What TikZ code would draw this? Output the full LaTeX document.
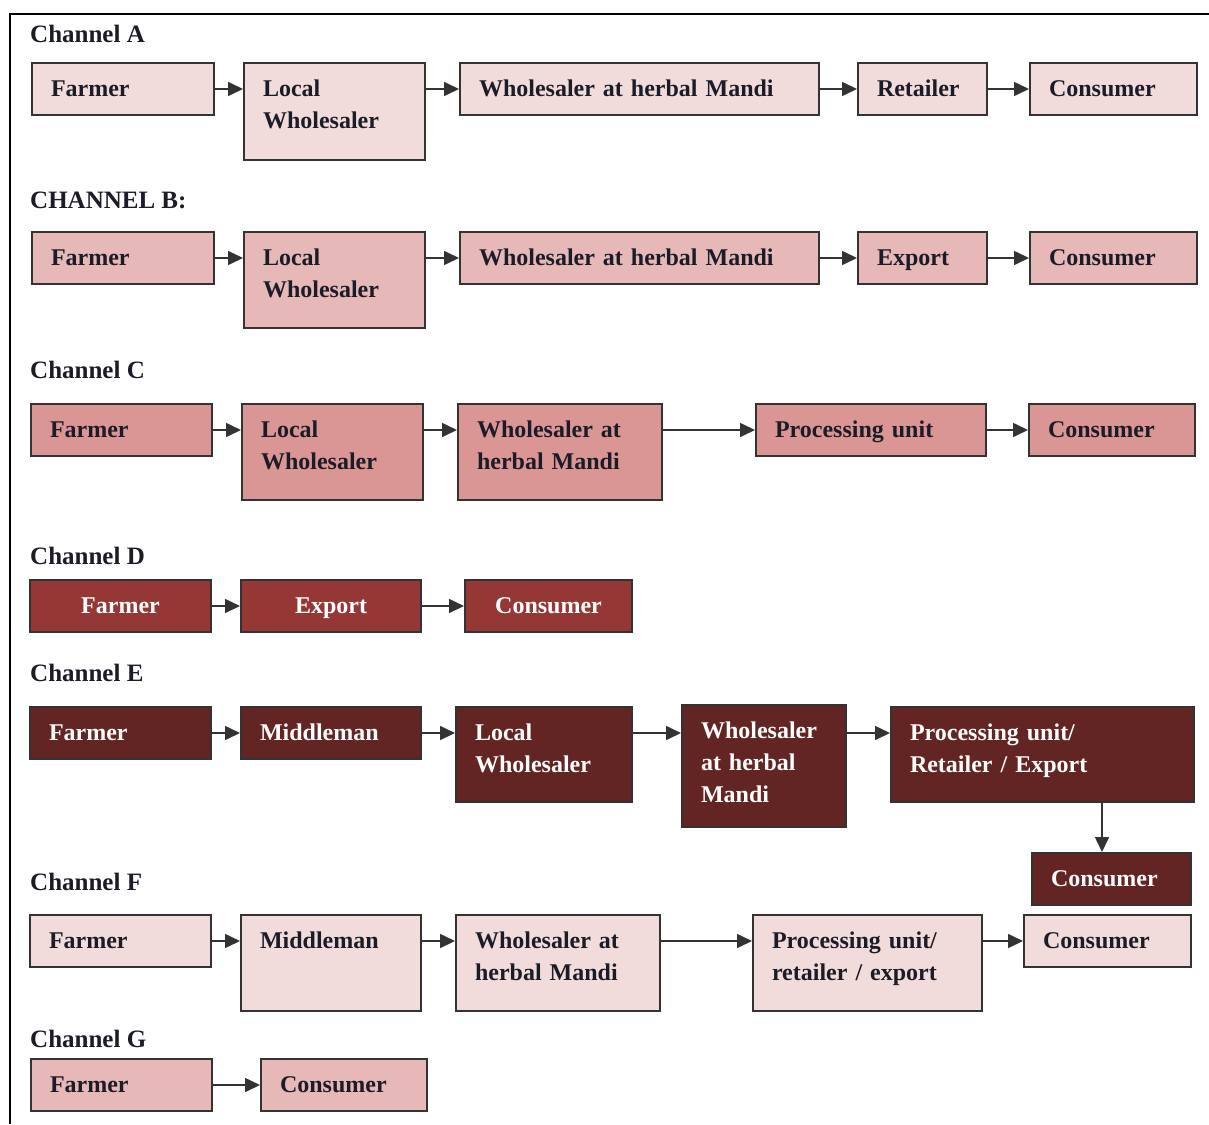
\documentclass[tikz,border=0pt]{standalone}
\usepackage{fontspec}
\setmainfont{Liberation Serif}
\usetikzlibrary{arrows.meta}
\definecolor{pA}{HTML}{F2DCDB}
\definecolor{pB}{HTML}{E6B8B7}
\definecolor{pC}{HTML}{DA9694}
\definecolor{pD}{HTML}{953735}
\definecolor{pE}{HTML}{632523}
\definecolor{edge}{HTML}{333333}
\definecolor{ink}{HTML}{1C1C28}
\tikzset{
  box/.style={draw=edge, line width=2pt, anchor=north west, inner xsep=19pt,
    inner ysep=0pt, align=left, text height=33pt, text=ink,
    font=\fontsize{24}{32}\selectfont\bfseries},
  wh/.code 2 args={\pgfmathsetlengthmacro\tw{#1-38}\pgfmathsetlengthmacro\td{#2-33}%
    \edef\tmpstyle{\noexpand\tikzset{text width=\tw, text depth=\td}}\tmpstyle},
  lt/.style={box, fill=pA},
  md/.style={box, fill=pB},
  mc/.style={box, fill=pC},
  dk/.style={box, fill=pD, text=white, align=center},
  dr/.style={box, fill=pE, text=white},
  chan/.style={anchor=base west, inner sep=0pt, text=ink,
    font=\fontsize{25}{30}\selectfont\bfseries},
  arr/.style={draw=edge, line width=1.6pt, -{Triangle[length=15pt,width=14pt]}},
}
\begin{document}
\begin{tikzpicture}[x=1pt,y=-1pt]
\useasboundingbox[fill=white] (0,0) rectangle (1209,1124);
\draw[line width=2pt, black] (1209,14) -- (10,14) -- (10,1124);

% Channel A
\node[chan] (la) at (30,43) {Channel A};
\node[lt, wh={182}{52}] (a1) at (31,62) {Farmer};
\node[lt, wh={181}{97}] (a2) at (243,62) {Local\\Wholesaler};
\node[lt, wh={359}{52}] (a3) at (459,62) {Wholesaler at herbal Mandi};
\node[lt, wh={129}{52}] (a4) at (857,62) {Retailer};
\node[lt, wh={167}{52}] (a5) at (1029,62) {Consumer};
\draw[arr] (a1.east) -- (a2.west |- a1.east);
\draw[arr] (a2.east |- a1.east) -- (a3.west);
\draw[arr] (a3.east) -- (a4.west);
\draw[arr] (a4.east) -- (a5.west);

% Channel B
\node[chan] (lb) at (30,208) {CHANNEL B:};
\node[md, wh={182}{52}] (b1) at (31,231) {Farmer};
\node[md, wh={181}{96}] (b2) at (243,231) {Local\\Wholesaler};
\node[md, wh={359}{52}] (b3) at (459,231) {Wholesaler at herbal Mandi};
\node[md, wh={129}{52}] (b4) at (857,231) {Export};
\node[md, wh={167}{52}] (b5) at (1029,231) {Consumer};
\draw[arr] (b1.east) -- (b2.west |- b1.east);
\draw[arr] (b2.east |- b1.east) -- (b3.west);
\draw[arr] (b3.east) -- (b4.west);
\draw[arr] (b4.east) -- (b5.west);

% Channel C
\node[chan] (lc) at (30,378) {Channel C};
\node[mc, wh={181}{52}] (c1) at (30,403) {Farmer};
\node[mc, wh={181}{96}] (c2) at (241,403) {Local\\Wholesaler};
\node[mc, wh={204}{96}] (c3) at (457,403) {Wholesaler at\\herbal Mandi};
\node[mc, wh={230}{52}] (c4) at (755,403) {Processing unit};
\node[mc, wh={166}{52}] (c5) at (1028,403) {Consumer};
\draw[arr] (c1.east) -- (c2.west |- c1.east);
\draw[arr] (c2.east |- c1.east) -- (c3.west |- c1.east);
\draw[arr] (c3.east |- c1.east) -- (c4.west);
\draw[arr] (c4.east) -- (c5.west);

% Channel D
\node[chan] (ld) at (30,564) {Channel D};
\node[dk, wh={181}{52}] (d1) at (29,579) {Farmer};
\node[dk, wh={180}{52}] (d2) at (240,579) {Export};
\node[dk, wh={167}{52}] (d3) at (464,579) {Consumer};
\draw[arr] (d1.east) -- (d2.west);
\draw[arr] (d2.east) -- (d3.west);

% Channel E
\node[chan] (le) at (30,681) {Channel E};
\node[dr, wh={181}{52}] (e1) at (29,706) {Farmer};
\node[dr, wh={180}{52}] (e2) at (240,706) {Middleman};
\node[dr, wh={176}{95}] (e3) at (455,706) {Local\\Wholesaler};
\node[dr, wh={164}{122}] (e4) at (681,704) {Wholesaler\\at herbal\\Mandi};
\node[dr, wh={303}{95}] (e5) at (890,706) {Processing unit/\\Retailer / Export};
\node[dr, wh={159}{52}] (e6) at (1031,852) {Consumer};
\draw[arr] (e1.east) -- (e2.west);
\draw[arr] (e2.east) -- (e3.west |- e1.east);
\draw[arr] (e3.east |- e1.east) -- (e4.west |- e1.east);
\draw[arr] (e4.east |- e1.east) -- (e5.west |- e1.east);
\draw[arr] ([xshift=-9.5pt]e6.north |- e5.south) -- ([xshift=-9.5pt]e6.north);

% Channel F
\node[chan] (lf) at (30,890) {Channel F};
\node[lt, wh={181}{52}] (f1) at (29,914) {Farmer};
\node[lt, wh={180}{96}] (f2) at (240,914) {Middleman};
\node[lt, wh={204}{96}] (f3) at (455,914) {Wholesaler at\\herbal Mandi};
\node[lt, wh={229}{96}] (f4) at (752,914) {Processing unit/\\retailer / export};
\node[lt, wh={167}{52}] (f5) at (1023,914) {Consumer};
\draw[arr] (f1.east) -- (f2.west |- f1.east);
\draw[arr] (f2.east |- f1.east) -- (f3.west |- f1.east);
\draw[arr] (f3.east |- f1.east) -- (f4.west |- f1.east);
\draw[arr] (f4.east |- f1.east) -- (f5.west);

% Channel G
\node[chan] (lg) at (30,1047) {Channel G};
\node[md, wh={181}{52}] (g1) at (30,1058) {Farmer};
\node[md, wh={166}{52}] (g2) at (260,1058) {Consumer};
\draw[arr] (g1.east) -- (g2.west);
\end{tikzpicture}
\end{document}
